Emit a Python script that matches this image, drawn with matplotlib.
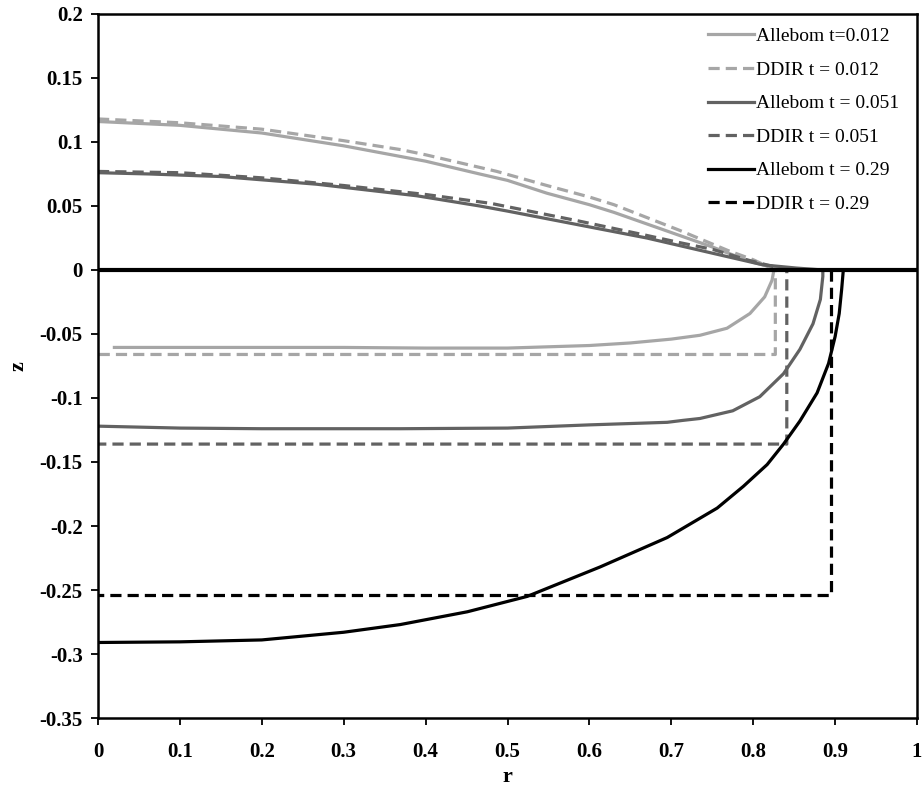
import matplotlib
matplotlib.use("Agg")
import matplotlib.pyplot as plt

# Free-surface (top) and base (bottom) profiles, z against r
# Allebom, t = 0.012
r_all_012 = [0.0, 0.1, 0.2, 0.3, 0.4, 0.466, 0.5, 0.548, 0.6, 0.63, 0.67, 0.71, 0.75, 0.77, 0.8, 0.812, 0.825, 0.84,
             0.84, 0.835, 0.827, 0.825, 0.823, 0.814, 0.796, 0.768, 0.735, 0.7, 0.65, 0.6, 0.5, 0.4, 0.3, 0.2, 0.1, 0.02]
z_all_012 = [0.116, 0.113, 0.107, 0.097, 0.085, 0.075, 0.070, 0.060, 0.051, 0.045, 0.036, 0.027, 0.018, 0.013, 0.006, 0.004, 0.0015, 0.0,
             0.0, 0.0, 0.0, -0.001, -0.008, -0.021, -0.034, -0.0455, -0.051, -0.054, -0.057, -0.059, -0.061, -0.061, -0.0605, -0.0605, -0.0605, -0.0605]

# DDIR, t = 0.012
r_ddir_012 = [0.0, 0.1, 0.2, 0.3, 0.37, 0.4, 0.487, 0.548, 0.6, 0.63, 0.67, 0.71, 0.77, 0.8, 0.827, 0.827, 0.0]
z_ddir_012 = [0.118, 0.115, 0.110, 0.101, 0.094, 0.090, 0.077, 0.066, 0.057, 0.051, 0.041, 0.031, 0.015, 0.008, 0.0, -0.066, -0.066]

# Allebom, t = 0.051
r_all_051 = [0.0, 0.063, 0.15, 0.267, 0.389, 0.466, 0.5, 0.589, 0.67, 0.751, 0.812, 0.853, 0.885,
             0.885, 0.882, 0.873, 0.857, 0.837, 0.808, 0.775, 0.735, 0.714, 0.695, 0.6, 0.5, 0.369, 0.2, 0.1, 0.0]
z_all_051 = [0.076, 0.075, 0.073, 0.067, 0.058, 0.050, 0.046, 0.035, 0.025, 0.013, 0.004, 0.0015, 0.0,
             -0.005, -0.023, -0.042, -0.062, -0.081, -0.099, -0.110, -0.116, -0.1175, -0.119, -0.121, -0.1235, -0.124, -0.124, -0.1235, -0.122]

# DDIR, t = 0.051
r_ddir_051 = [0.0, 0.1, 0.2, 0.3, 0.4, 0.48, 0.589, 0.67, 0.713, 0.751, 0.792, 0.841, 0.841, 0.0]
z_ddir_051 = [0.077, 0.076, 0.072, 0.066, 0.059, 0.052, 0.038, 0.027, 0.021, 0.016, 0.008, 0.0, -0.136, -0.136]

# Allebom, t = 0.29
r_all_029 = [0.0, 0.1, 0.2, 0.3, 0.369, 0.451, 0.524, 0.613, 0.695, 0.756, 0.788, 0.817, 0.837, 0.857, 0.878, 0.892, 0.900, 0.905, 0.908, 0.910]
z_all_029 = [-0.291, -0.2905, -0.289, -0.283, -0.277, -0.267, -0.255, -0.232, -0.209, -0.186, -0.169, -0.152, -0.136, -0.118, -0.096, -0.073, -0.052, -0.034, -0.015, 0.0]

# DDIR, t = 0.29
r_ddir_029 = [0.895, 0.895, 0.0]
z_ddir_029 = [0.0, -0.254, -0.254]

x_ticks = [0, 0.1, 0.2, 0.3, 0.4, 0.5, 0.6, 0.7, 0.8, 0.9, 1]
x_ticklabels = ["0", "0.1", "0.2", "0.3", "0.4", "0.5", "0.6", "0.7", "0.8", "0.9", "1"]
y_ticks = [0.2, 0.15, 0.1, 0.05, 0, -0.05, -0.1, -0.15, -0.2, -0.25, -0.3, -0.35]
y_ticklabels = ["0.2", "0.15", "0.1", "0.05", "0", "-0.05", "-0.1", "-0.15", "-0.2", "-0.25", "-0.3", "-0.35"]

LIGHT = "#a6a6a6"
MID = "#626262"
DARK = "#000000"
DASH = (0, (3.5, 1.9))

fig = plt.figure(figsize=(9.22, 7.94), dpi=100)
ax = fig.add_axes([0.1063, 0.0957, 0.8883, 0.8867])

lw = 2.3
ax.plot(r_all_012, z_all_012, color=LIGHT, lw=lw, label="Allebom t=0.012", solid_joinstyle="round")
ax.plot(r_ddir_012, z_ddir_012, color=LIGHT, lw=lw, ls=DASH, label="DDIR t = 0.012")
ax.plot(r_all_051, z_all_051, color=MID, lw=lw, label="Allebom t = 0.051", solid_joinstyle="round")
ax.plot(r_ddir_051, z_ddir_051, color=MID, lw=lw, ls=DASH, label="DDIR t = 0.051")
ax.plot(r_all_029, z_all_029, color=DARK, lw=lw, label="Allebom t = 0.29", solid_joinstyle="round")
ax.plot(r_ddir_029, z_ddir_029, color=DARK, lw=lw, ls=DASH, label="DDIR t = 0.29")

ax.axhline(0, color="black", lw=3.0, zorder=5)

ax.set_xlim(0, 1)
ax.set_ylim(-0.35, 0.2)
ax.set_xticks(x_ticks)
ax.set_xticklabels(x_ticklabels)
ax.set_yticks(y_ticks)
ax.set_yticklabels(y_ticklabels)

for lab in ax.get_xticklabels() + ax.get_yticklabels():
    lab.set_fontfamily("Liberation Serif")
    lab.set_fontweight("bold")
    lab.set_fontsize(15)

ax.tick_params(axis="both", direction="out", length=5, width=1.3, color="black")
ax.tick_params(axis="x", pad=12)
ax.tick_params(axis="y", pad=6)
for sp in ax.spines.values():
    sp.set_linewidth(1.8)
    sp.set_color("black")

ax.set_xlabel("r", fontfamily="Liberation Serif", fontweight="bold", fontsize=16, labelpad=4)
ax.set_ylabel("z", fontfamily="Liberation Serif", fontweight="bold", fontsize=16, labelpad=8)

leg = ax.legend(loc="upper right", frameon=False, prop=dict(family="Liberation Serif", size=14),
                handlelength=2.4, handletextpad=0.1, labelspacing=0.82,
                borderaxespad=0.3, bbox_to_anchor=(0.995, 1.0))

fig.savefig("out.png", dpi=100, facecolor="white")
